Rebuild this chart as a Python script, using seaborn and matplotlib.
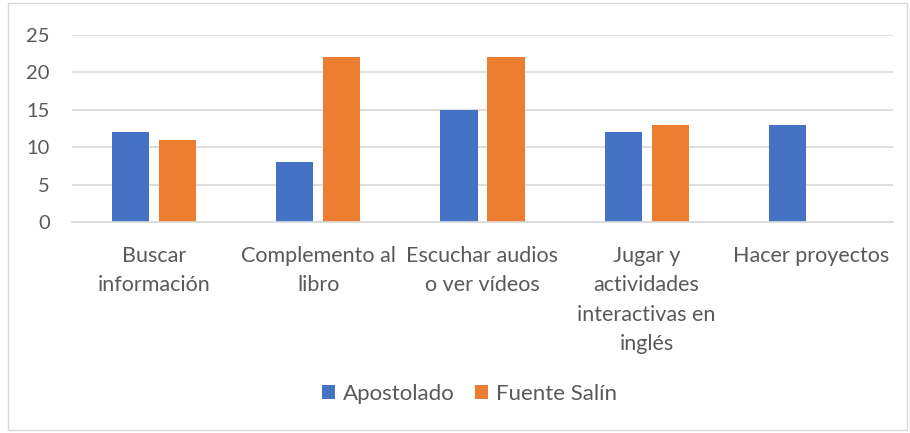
import matplotlib
matplotlib.use("Agg")
import matplotlib.pyplot as plt
import seaborn as sns
import pandas as pd
from matplotlib.patches import Rectangle

categories = ["Buscar\ninformación", "Complemento al\nlibro", "Escuchar audios\no ver vídeos",
              "Jugar y\nactividades\ninteractivas en\ninglés", "Hacer proyectos"]
apostolado = [12, 8, 15, 12, 13]
fuente_salin = [11, 22, 22, 13, 0]
series_names = ["Apostolado", "Fuente Salín"]
yticks = [0, 5, 10, 15, 20, 25]

df = pd.DataFrame({
    "cat": categories * 2,
    "val": apostolado + fuente_salin,
    "serie": [series_names[0]] * len(categories) + [series_names[1]] * len(categories),
})

sns.set_theme(style="white")
plt.rcParams['font.family'] = ['Lato', 'DejaVu Sans']

fig = plt.figure(figsize=(9.1, 4.33), dpi=100)
ax = fig.add_axes([0.0791, 0.4873, 0.9022, 0.4319])
sns.barplot(data=df, x="cat", y="val", hue="serie", order=categories,
            hue_order=series_names, palette=["#4472C4", "#ED7D31"], saturation=1,
            width=0.572, gap=0.21, linewidth=0, ax=ax, legend=True)

ax.set_ylim(0, 25)
ax.set_yticks(yticks)
ax.set_xlim(-0.5, len(categories) - 0.5)
ax.yaxis.grid(True, color="#D9D9D9", linewidth=1.2)
ax.set_axisbelow(True)
for s in ["top", "right", "left"]:
    ax.spines[s].set_visible(False)
ax.spines["bottom"].set_color("#D9D9D9")
ax.spines["bottom"].set_linewidth(1.2)
ax.set_xlabel("")
ax.set_ylabel("")
ax.tick_params(axis="y", length=0, labelsize=14.5, colors="#595959", pad=16)
ax.tick_params(axis="x", length=0, labelsize=15.5, colors="#595959", pad=17)
for t in ax.get_xticklabels():
    t.set_linespacing(1.6)

h, l = ax.get_legend_handles_labels()
ax.legend_.remove()
fig.legend(h, l, loc="center", bbox_to_anchor=(0.516, 0.09), ncol=2, frameon=False,
           fontsize=16, handlelength=0.6, handleheight=0.6, columnspacing=0.9,
           handletextpad=0.35, labelcolor="#595959")

fig.patches.append(Rectangle((0.009, 0.007), 0.988, 0.986, transform=fig.transFigure,
                             fill=False, edgecolor="#D9D9D9", linewidth=1))
fig.savefig("out.png", dpi=100)
